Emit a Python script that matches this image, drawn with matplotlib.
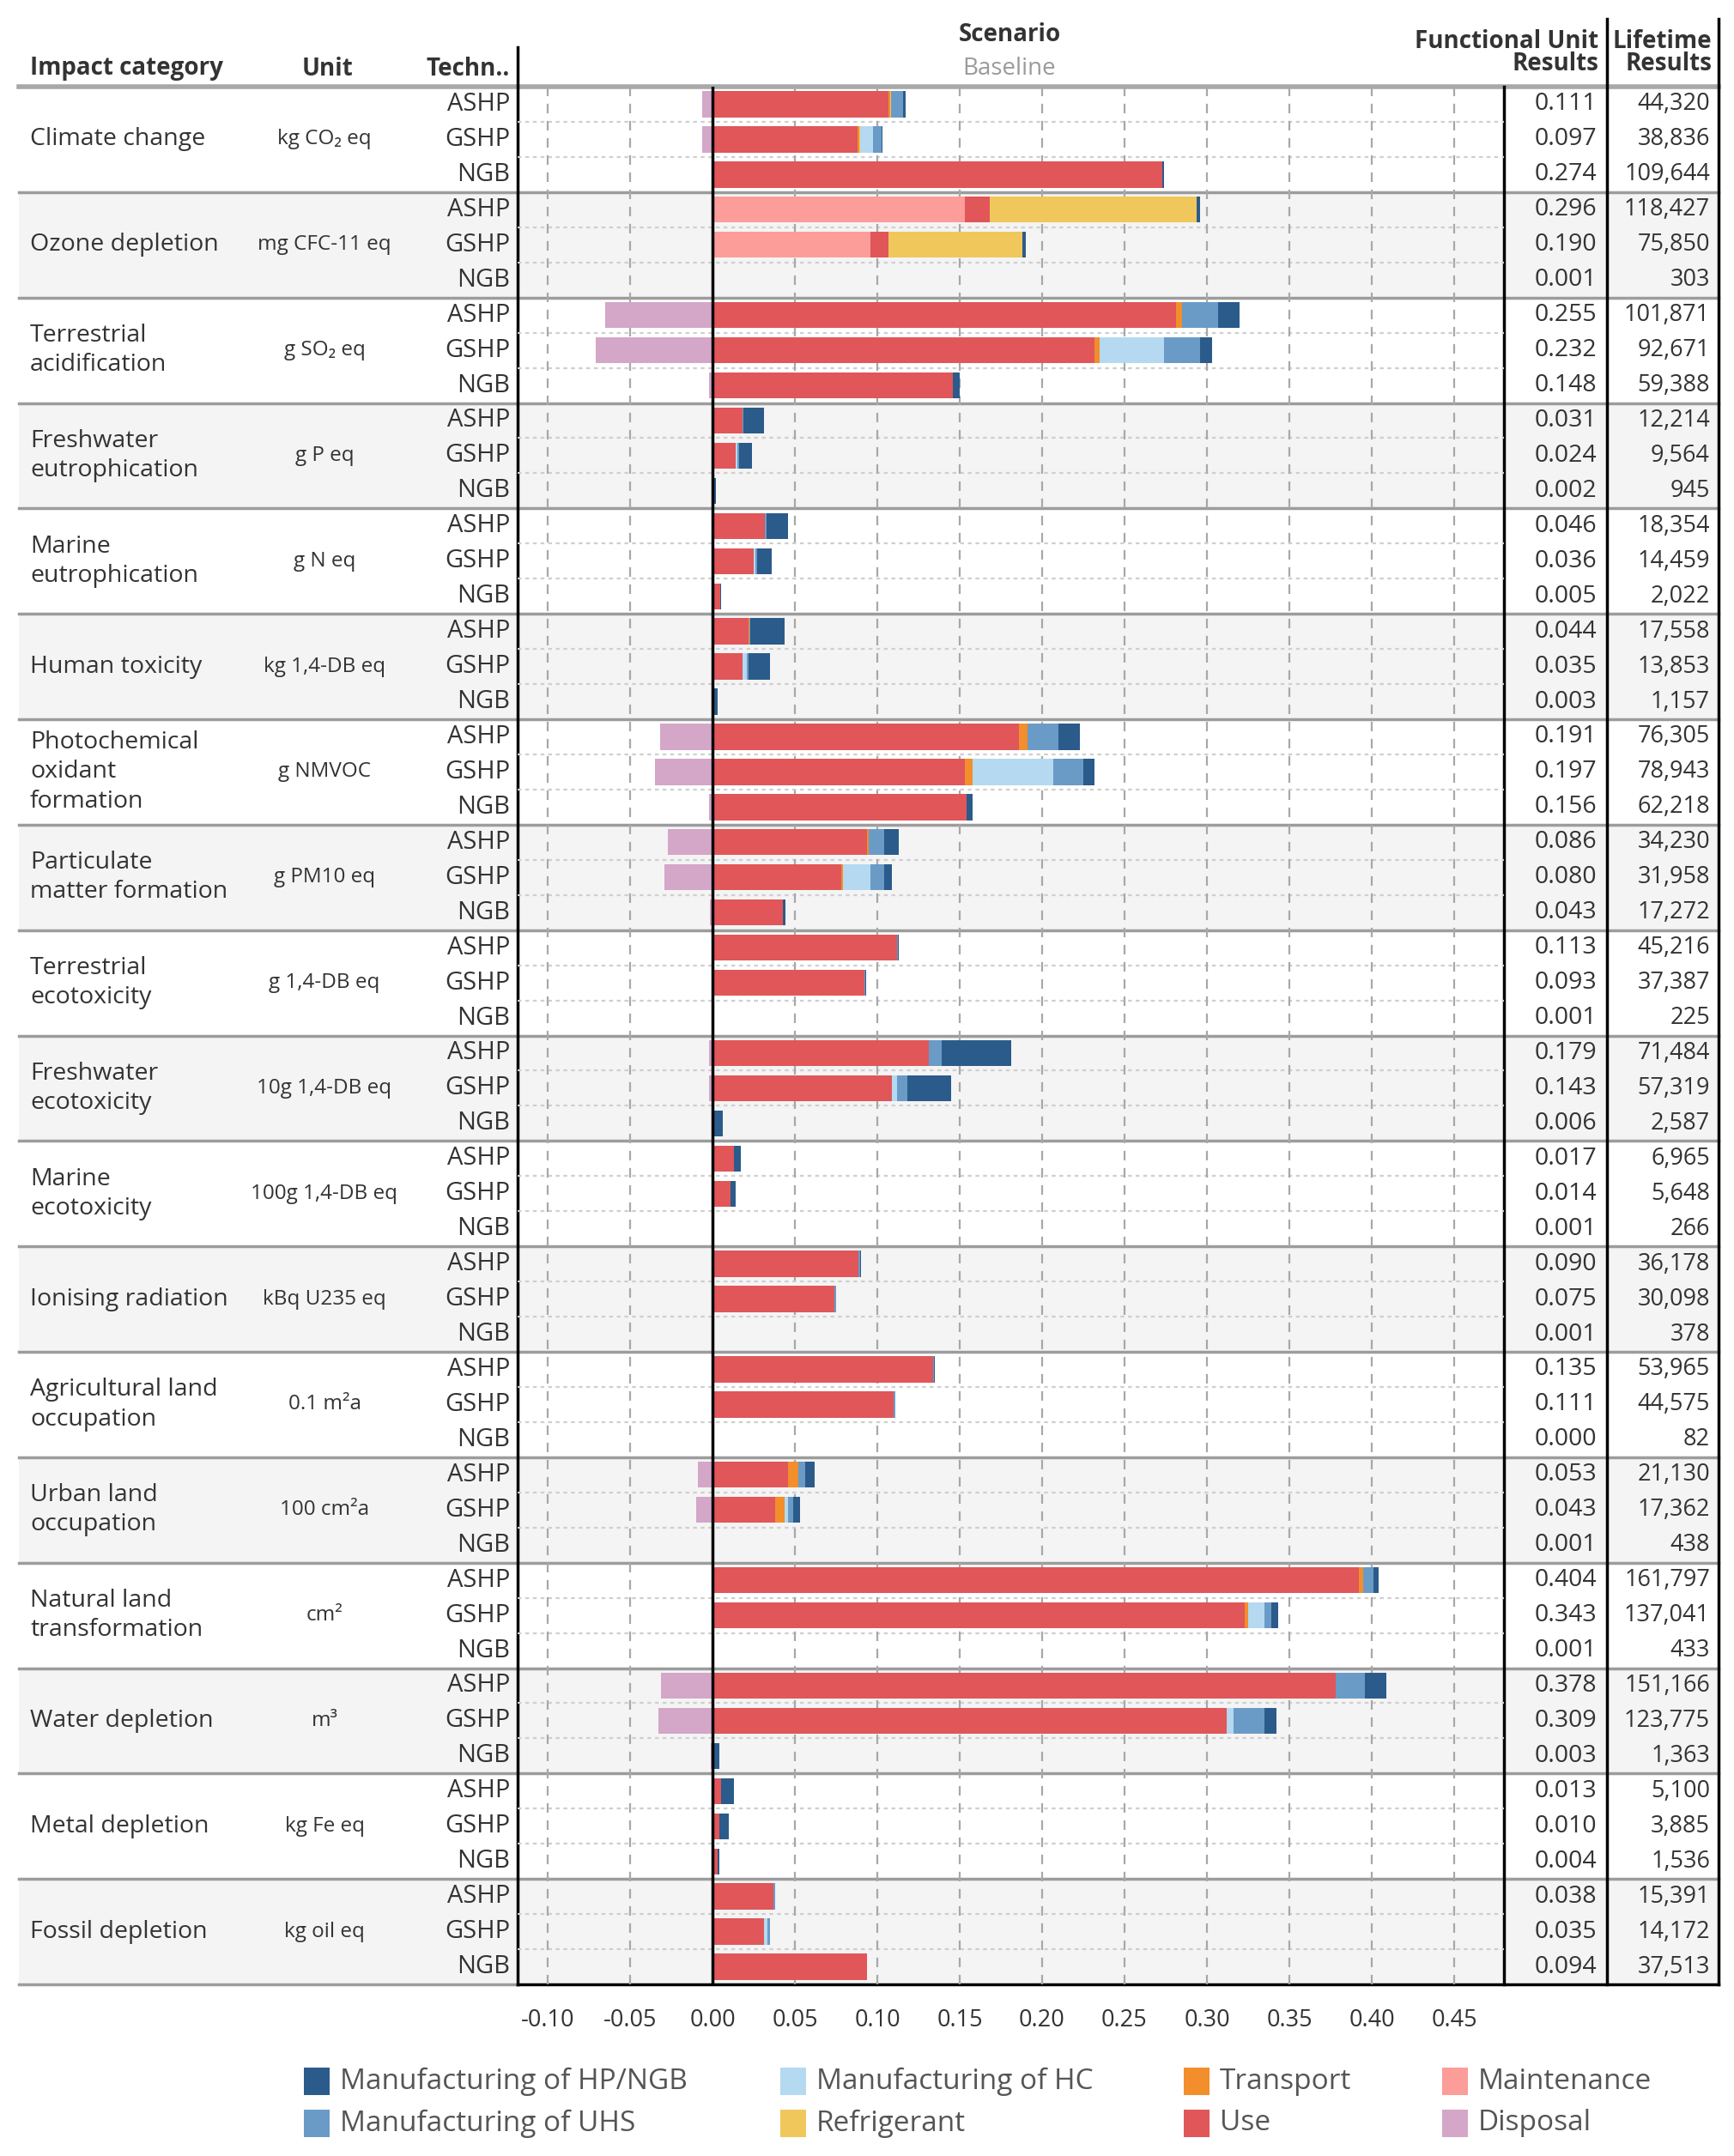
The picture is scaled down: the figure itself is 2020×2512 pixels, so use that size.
import matplotlib
matplotlib.use('Agg')
import matplotlib.pyplot as plt
from matplotlib.patches import Rectangle

plt.rcParams['font.family'] = ['Open Sans', 'DejaVu Sans']

# ---------------- data ----------------
categories = ["Climate change", "Ozone depletion", "Terrestrial\nacidification",
              "Freshwater\neutrophication", "Marine\neutrophication", "Human toxicity",
              "Photochemical\noxidant\nformation", "Particulate\nmatter formation",
              "Terrestrial\necotoxicity", "Freshwater\necotoxicity", "Marine\necotoxicity",
              "Ionising radiation", "Agricultural land\noccupation", "Urban land\noccupation",
              "Natural land\ntransformation", "Water depletion", "Metal depletion",
              "Fossil depletion"]
units = ["kg CO₂ eq", "mg CFC-11 eq", "g SO₂ eq", "g P eq", "g N eq", "kg 1,4-DB eq",
         "g NMVOC", "g PM10 eq", "g 1,4-DB eq", "10g 1,4-DB eq", "100g 1,4-DB eq",
         "kBq U235 eq", "0.1 m²a", "100 cm²a", "cm²", "m³", "kg Fe eq", "kg oil eq"]
technologies = ["ASHP", "GSHP", "NGB"]

# contributions per row (category x technology, ASHP/GSHP/NGB)
mfg_hp = [0.0015, 0.0005, 0.001,  0.002, 0.002, 0.0005,  0.013, 0.007, 0.004,
          0.012, 0.008, 0.0015,  0.013, 0.009, 0.0005,  0.021, 0.013, 0.0025,
          0.013, 0.007, 0.004,  0.009, 0.005, 0.002,  0.0005, 0.0005, 0.0005,
          0.042, 0.027, 0.005,  0.004, 0.003, 0.0005,  0.0005, 0.0, 0.0005,
          0.0005, 0.0, 0.0,  0.006, 0.004, 0.0005,  0.003, 0.004, 0.0,
          0.013, 0.007, 0.003,  0.008, 0.006, 0.001,  0.0, 0.0, 0.0005]
mfg_uhs = [0.007, 0.005, 0.0,  0.0, 0.0, 0.0,  0.022, 0.022, 0.0,
           0.001, 0.001, 0.0,  0.001, 0.001, 0.0,  0.0005, 0.001, 0.0,
           0.019, 0.018, 0.0,  0.009, 0.008, 0.0,  0.0005, 0.0005, 0.0,
           0.008, 0.006, 0.0,  0.0, 0.0, 0.0,  0.001, 0.001, 0.0,
           0.0005, 0.001, 0.0,  0.004, 0.003, 0.0,  0.006, 0.004, 0.0,
           0.018, 0.019, 0.0,  0.0, 0.0, 0.0,  0.001, 0.0015, 0.0]
mfg_hc = [0.0, 0.008, 0.0,  0.0, 0.0, 0.0,  0.0, 0.039, 0.0,
          0.0, 0.001, 0.0,  0.0, 0.001, 0.0,  0.0, 0.003, 0.0,
          0.0, 0.049, 0.0,  0.0, 0.017, 0.0,  0.0, 0.0, 0.0,
          0.0, 0.003, 0.0,  0.0, 0.0, 0.0,  0.0, 0.0, 0.0,
          0.0, 0.0, 0.0,  0.0, 0.002, 0.0,  0.0, 0.010, 0.0,
          0.0, 0.004, 0.0,  0.0, 0.0, 0.0,  0.0, 0.002, 0.0]
refrigerant = [0.0005, 0.0005, 0.0,  0.126, 0.081, 0.0,  0.0, 0.0, 0.0,
               0.0, 0.0, 0.0,  0.0, 0.0, 0.0,  0.0, 0.0, 0.0,
               0.0, 0.0, 0.0,  0.0, 0.0, 0.0,  0.0, 0.0, 0.0,
               0.0, 0.0, 0.0,  0.0, 0.0, 0.0,  0.0, 0.0, 0.0,
               0.0, 0.0, 0.0,  0.0, 0.0, 0.0,  0.0, 0.0, 0.0,
               0.0, 0.0, 0.0,  0.0, 0.0, 0.0,  0.0, 0.0, 0.0]
transport = [0.001, 0.001, 0.0,  0.0, 0.0, 0.0,  0.004, 0.003, 0.0,
             0.0, 0.0, 0.0,  0.0, 0.0, 0.0,  0.0005, 0.0, 0.0,
             0.005, 0.005, 0.0,  0.001, 0.001, 0.0,  0.0, 0.0, 0.0,
             0.0, 0.0, 0.0,  0.0, 0.0, 0.0,  0.0, 0.0, 0.0,
             0.0, 0.0, 0.0,  0.006, 0.006, 0.0,  0.003, 0.002, 0.0,
             0.0, 0.0, 0.0,  0.0, 0.0, 0.0,  0.0, 0.0005, 0.0]
use = [0.107, 0.088, 0.273,  0.015, 0.011, 0.0005,  0.281, 0.232, 0.146,
       0.018, 0.014, 0.0005,  0.032, 0.025, 0.0045,  0.022, 0.018, 0.0005,
       0.186, 0.153, 0.154,  0.094, 0.078, 0.0425,  0.112, 0.092, 0.0005,
       0.131, 0.109, 0.001,  0.013, 0.011, 0.0005,  0.0885, 0.074, 0.0005,
       0.134, 0.110, 0.0002,  0.046, 0.038, 0.0005,  0.392, 0.323, 0.001,
       0.378, 0.312, 0.001,  0.005, 0.004, 0.003,  0.037, 0.031, 0.0935]
maintenance = [0.0, 0.0, 0.0,  0.153, 0.096, 0.0,  0.0, 0.0, 0.0,
               0.0, 0.0, 0.0,  0.0, 0.0, 0.0,  0.0, 0.0, 0.0,
               0.0, 0.0, 0.0,  0.0, 0.0, 0.0,  0.0, 0.0, 0.0,
               0.0, 0.0, 0.0,  0.0, 0.0, 0.0,  0.0, 0.0, 0.0,
               0.0, 0.0, 0.0,  0.0, 0.0, 0.0,  0.0, 0.0, 0.0,
               0.0, 0.0, 0.0,  0.0, 0.0, 0.0,  0.0, 0.0, 0.0]
disposal = [-0.006, -0.006, 0.0,  0.0, 0.0, 0.0,  -0.065, -0.071, -0.002,
            0.0, 0.0, 0.0,  0.0, 0.0, 0.0,  0.0, 0.0, 0.0,
            -0.032, -0.035, -0.002,  -0.027, -0.029, -0.0015,  0.0, 0.0, 0.0,
            -0.002, -0.002, 0.0,  0.0, 0.0, 0.0,  0.0, 0.0, 0.0,
            0.0, 0.0, 0.0,  -0.009, -0.010, 0.0,  0.0, 0.0, 0.0,
            -0.031, -0.033, -0.001,  0.0, 0.0, 0.0,  0.0, 0.0, 0.0]

fu_results = [0.111, 0.097, 0.274, 0.296, 0.190, 0.001, 0.255, 0.232, 0.148,
              0.031, 0.024, 0.002, 0.046, 0.036, 0.005, 0.044, 0.035, 0.003,
              0.191, 0.197, 0.156, 0.086, 0.080, 0.043, 0.113, 0.093, 0.001,
              0.179, 0.143, 0.006, 0.017, 0.014, 0.001, 0.090, 0.075, 0.001,
              0.135, 0.111, 0.000, 0.053, 0.043, 0.001, 0.404, 0.343, 0.001,
              0.378, 0.309, 0.003, 0.013, 0.010, 0.004, 0.038, 0.035, 0.094]
lifetime_results = [44320, 38836, 109644, 118427, 75850, 303, 101871, 92671, 59388,
                    12214, 9564, 945, 18354, 14459, 2022, 17558, 13853, 1157,
                    76305, 78943, 62218, 34230, 31958, 17272, 45216, 37387, 225,
                    71484, 57319, 2587, 6965, 5648, 266, 36178, 30098, 378,
                    53965, 44575, 82, 21130, 17362, 438, 161797, 137041, 433,
                    151166, 123775, 1363, 5100, 3885, 1536, 15391, 14172, 37513]

tick_values = [-0.10, -0.05, 0.00, 0.05, 0.10, 0.15, 0.20, 0.25, 0.30, 0.35, 0.40, 0.45]

stages = ["Manufacturing of HP/NGB", "Manufacturing of UHS", "Manufacturing of HC",
          "Refrigerant", "Transport", "Use", "Maintenance", "Disposal"]
colors = {"Manufacturing of HP/NGB": "#2b5b8a", "Manufacturing of UHS": "#6a9bc7",
          "Manufacturing of HC": "#b4d9f0", "Refrigerant": "#f0c75b",
          "Transport": "#f28e2b", "Use": "#e05659", "Maintenance": "#fc9d9a",
          "Disposal": "#d4a6c8"}
series = {"Manufacturing of HP/NGB": mfg_hp, "Manufacturing of UHS": mfg_uhs,
          "Manufacturing of HC": mfg_hc, "Refrigerant": refrigerant,
          "Transport": transport, "Use": use, "Maintenance": maintenance,
          "Disposal": disposal}
stack_order = ["Maintenance", "Use", "Transport", "Refrigerant", "Manufacturing of HC",
               "Manufacturing of UHS", "Manufacturing of HP/NGB"]

# ---------------- layout ----------------
W, H = 2020, 2512
fig = plt.figure(figsize=(W / 100, H / 100), dpi=100)
TXT = "#333333"

bg = fig.add_axes([0, 0, 1, 1], zorder=0)
bg.set_xlim(0, W)
bg.set_ylim(H, 0)
bg.axis('off')

PL, PR, PT, PB = 603, 1752, 101, 2312
X0 = 830.0
PX_PER_UNIT = 1920.0
nrows = len(use)
ngroups = len(categories)
row_h = (PB - PT) / nrows
grp_h = row_h * 3

ax = fig.add_axes([PL / W, 1 - PB / H, (PR - PL) / W, (PB - PT) / H], zorder=1)
ax.patch.set_alpha(0)
ax.set_xlim(-(X0 - PL) / PX_PER_UNIT, (PR - X0) / PX_PER_UNIT)
ax.set_ylim(nrows - 0.5, -0.5)

# shading of alternate groups
LX, RX = 22, 2002
for g in range(ngroups):
    y0 = PT + g * grp_h
    if g % 2 == 1:
        bg.add_patch(Rectangle((LX, y0), RX - LX, grp_h, color="#f4f4f4", lw=0, zorder=0))

# gridlines
for t in tick_values:
    if abs(t) > 1e-9:
        ax.axvline(t, color="#a8a8a8", lw=1.6, ls=(0, (5, 4)), zorder=0.5)
for r in range(nrows - 1):
    if (r + 1) % 3 != 0:
        ax.axhline(r + 0.5, color="#cfcfcf", lw=1.6, ls=(0, (2, 2)), zorder=0.4)

# bars
rows = list(range(nrows))
bh = 0.74
left = [0.0] * nrows
for s in stack_order:
    vals = series[s]
    ax.barh(rows, vals, left=left, height=bh, color=colors[s], lw=0, zorder=2)
    left = [l + v for l, v in zip(left, vals)]
ax.barh(rows, disposal, left=0, height=bh, color=colors["Disposal"], lw=0, zorder=2)
ax.axvline(0, color="black", lw=2.5, zorder=3)

ax.set_yticks([])
ax.set_xticks(tick_values)
ax.set_xticklabels([f"{t:.2f}" for t in tick_values], fontsize=19.5, color=TXT)
ax.tick_params(axis='x', length=0, pad=20)
for sp in ax.spines.values():
    sp.set_visible(False)

# group separator lines and header line
for g in range(1, ngroups):
    y = PT + g * grp_h
    bg.plot([LX, RX], [y, y], color="#9c9c9c", lw=2.5, zorder=1)
bg.plot([LX, RX], [PT, PT], color="#a8a8a8", lw=4, zorder=1)
bg.plot([LX, PL], [PB, PB], color="#9c9c9c", lw=2.5, zorder=1)
bg.plot([PL, RX], [PB, PB], color="black", lw=2.5, zorder=5)

# black column borders
bg.plot([PL, PL], [55, PB], color="black", lw=2.5, zorder=5)
bg.plot([PR, PR], [PT, PB], color="black", lw=2.5, zorder=5)
for x in (1872, RX):
    bg.plot([x, x], [22, PB], color="black", lw=2.5, zorder=5)

# header
hfs = 20
bg.text(35, 80, "Impact category", fontsize=hfs, fontweight='bold', color=TXT, va='center', ha='left')
bg.text(382, 80, "Unit", fontsize=hfs, fontweight='bold', color=TXT, va='center', ha='center')
bg.text(594, 80, "Techn..", fontsize=hfs, fontweight='bold', color=TXT, va='center', ha='right')
bg.text(1176, 40, "Scenario", fontsize=hfs, fontweight='bold', color=TXT, va='center', ha='center')
bg.text(1176, 80, "Baseline", fontsize=hfs, color="#9a9a9a", va='center', ha='center')
bg.text(1862, 48, "Functional Unit", fontsize=hfs, fontweight='bold', color=TXT, va='center', ha='right')
bg.text(1862, 74, "Results", fontsize=hfs, fontweight='bold', color=TXT, va='center', ha='right')
bg.text(1994, 48, "Lifetime", fontsize=hfs, fontweight='bold', color=TXT, va='center', ha='right')
bg.text(1994, 74, "Results", fontsize=hfs, fontweight='bold', color=TXT, va='center', ha='right')

# left table and right columns
fs = 20.5
for g in range(ngroups):
    yc = PT + (g + 0.5) * grp_h
    bg.text(35, yc, categories[g], fontsize=fs, color=TXT, va='center', ha='left',
            linespacing=1.3, zorder=6)
    bg.text(378, yc, units[g], fontsize=17.5, color=TXT, va='center', ha='center', zorder=6)
    for k, tech in enumerate(technologies):
        r = g * 3 + k
        y = PT + (r + 0.5) * row_h
        bg.text(594, y, tech, fontsize=21, color=TXT, va='center', ha='right', zorder=6)
        bg.text(1860, y, f"{fu_results[r]:.3f}", fontsize=fs, color=TXT, va='center', ha='right', zorder=6)
        bg.text(1992, y, f"{lifetime_results[r]:,}", fontsize=19.5, color=TXT, va='center', ha='right', zorder=6)

# legend
leg_cols = [354, 909, 1379, 1680]
leg_rows = [2425, 2474]
for i, s in enumerate(stages):
    cx = leg_cols[i // 2]
    cy = leg_rows[i % 2]
    bg.add_patch(Rectangle((cx, cy - 16), 30, 32, color=colors[s], lw=0, zorder=6))
    bg.text(cx + 42, cy, s, fontsize=24, color="#555555", va='center', ha='left', zorder=6)

fig.savefig("out.png", dpi=100)
